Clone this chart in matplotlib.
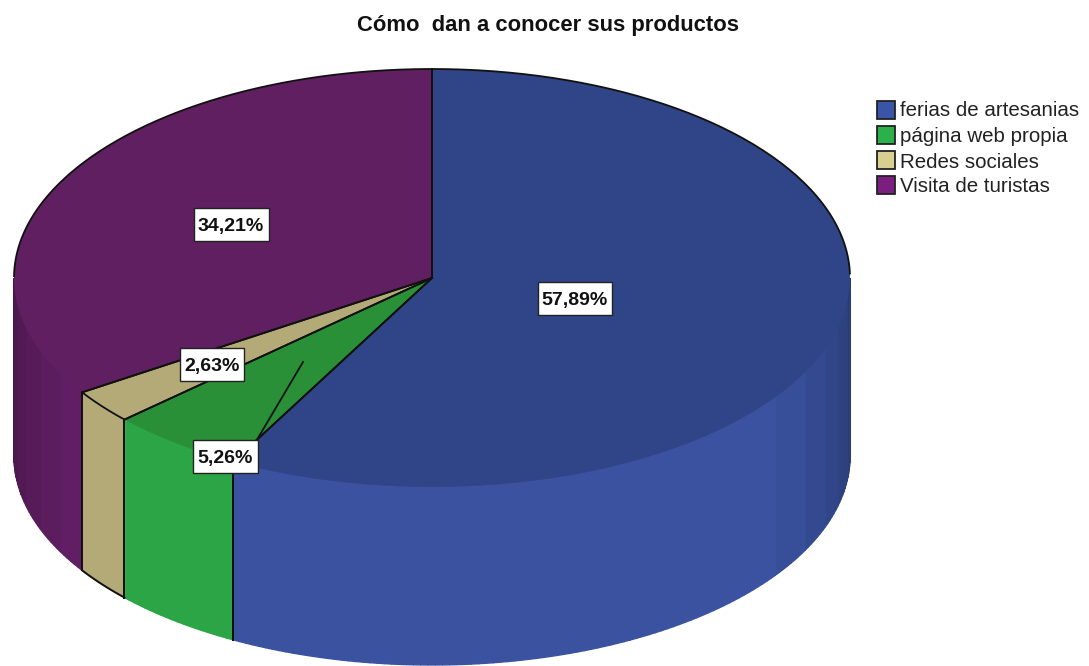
import numpy as np
import matplotlib
matplotlib.use("Agg")
import matplotlib.pyplot as plt
from matplotlib.patches import Polygon, Rectangle

categories = ["ferias de artesanias", "página web propia", "Redes sociales", "Visita de turistas"]
values = [57.89, 5.26, 2.63, 34.21]
labels = ["57,89%", "5,26%", "2,63%", "34,21%"]
top_colors = ["#2f4587", "#2a9038", "#b3aa78", "#5f1f60"]
side_colors = ["#3a52a0", "#2ba545", "#b3aa78", "#66206a"]
legend_colors = ["#3a55a8", "#2bb04a", "#d8cf90", "#7a1f80"]
title = "Cómo  dan a conocer sus productos"

plt.rcParams["font.family"] = ["Liberation Sans", "DejaVu Sans"]

W, H = 1089, 666
cx, cy, rx, ry, depth = 432, 278, 418, 209, 178

fig = plt.figure(figsize=(W / 100, H / 100), dpi=100)
ax = fig.add_axes([0, 0, 1, 1])
ax.set_xlim(0, W)
ax.set_ylim(H, 0)
ax.axis("off")


def ellipse(t):
    return cx + rx * np.sin(t), cy - ry * np.cos(t)


def shade(hex_col, f):
    c = np.array(matplotlib.colors.to_rgb(hex_col)) * f
    return tuple(np.clip(c, 0, 1))


edges = np.radians(np.cumsum([0] + values) / sum(values) * 360)
front = (np.pi / 2, 3 * np.pi / 2)
tan = 2  # only this slice keeps a black rim on the front

# side wall, only the front half is visible
for i in range(len(values)):
    a = max(edges[i], front[0])
    b = min(edges[i + 1], front[1])
    if b <= a:
        continue
    ts = np.linspace(a, b, int(np.degrees(b - a)) + 2)
    for t0, t1 in zip(ts[:-1], ts[1:]):
        x0, y0 = ellipse(t0)
        x1, y1 = ellipse(t1)
        # darker towards the rims, in steps like the original
        f = 0.72 + 0.28 * np.clip(np.cos((t0 + t1) / 2 - np.pi) * 1.6, 0, 1)
        if i != tan:
            f = round(f / 0.05) * 0.05
        else:
            f = 1
        col = shade(side_colors[i], f)
        ax.add_patch(Polygon([(x0, y0), (x1, y1), (x1, y1 + depth), (x0, y0 + depth)],
                             closed=True, fc=col, ec=col, lw=1.0, zorder=2))
    if i == tan:
        xs, ys = ellipse(ts)
        ax.plot(xs, ys + depth, color="#111111", lw=1.4, zorder=3)
    # vertical seam between slices
    for t in (a, b):
        if front[0] < t < front[1]:
            x, y = ellipse(t)
            ax.plot([x, x], [y, y + depth], color="#111111", lw=1.4, zorder=3)

# top face
for i in range(len(values)):
    ts = np.linspace(edges[i], edges[i + 1], 200)
    xs, ys = ellipse(ts)
    pts = [(cx, cy)] + list(zip(xs, ys))
    ax.add_patch(Polygon(pts, closed=True, fc=top_colors[i], ec="none", zorder=4))
    # radii
    for t in (edges[i], edges[i + 1]):
        x, y = ellipse(t)
        ax.plot([cx, x], [cy, y], color="#111111", lw=1.3, zorder=5)
    # rim: back half only, plus the tan slice
    keep = (ts <= front[0]) | (ts >= front[1]) | (i == tan)
    ax.plot(np.where(keep, xs, np.nan), np.where(keep, ys, np.nan), color="#111111", lw=1.3,
            solid_capstyle="butt", zorder=5)

# label boxes, placed by hand; the 5,26% one has a leader line
label_pos = [(575, 298), (225.5, 456), (212, 364), (231, 224)]
box_w = [74, 65, 64, 75]
box_h = 33
ax.plot([303, 258], [362, 438], color="#111111", lw=1.3, zorder=5)
for txt, (x, y), w in zip(labels, label_pos, box_w):
    ax.add_patch(Rectangle((x - w / 2, y - box_h / 2), w, box_h, fc="white", ec="#222222", lw=1.0, zorder=6))
    ax.text(x, y + 1, txt, ha="center", va="center_baseline", fontsize=14, fontweight="bold", zorder=7, color="#111111")

ax.text(548, 25, title, ha="center", va="center", fontsize=15.8, fontweight="bold", color="#111111")

# legend
swatch_y = [110, 135, 160, 185]
text_y = [111, 137, 162, 187]
for name, col, y, ty in zip(categories, legend_colors, swatch_y, text_y):
    ax.add_patch(Rectangle((877, y - 9), 18, 18, fc=col, ec="#222222", lw=1.3))
    ax.text(900, ty, name, ha="left", va="center", fontsize=14.8, color="#222222")

fig.savefig("out.png", dpi=100)
